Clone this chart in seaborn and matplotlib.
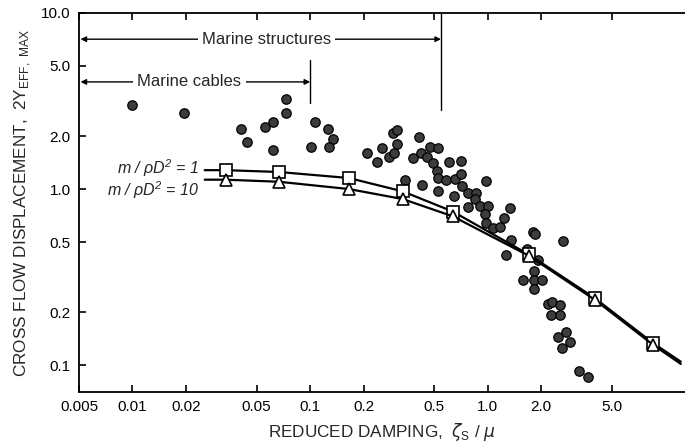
import matplotlib
matplotlib.use('Agg')
import matplotlib.pyplot as plt
import seaborn as sns
import pandas as pd

# ---- data (log-log) ----
pts_x = [0.0100, 0.0196, 0.041, 0.044, 0.056, 0.0615, 0.062, 0.073, 0.073, 0.106,
         0.126, 0.134, 0.101, 0.127,
         0.292, 0.307, 0.409, 0.208, 0.253, 0.237, 0.277, 0.295, 0.307, 0.378,
         0.419, 0.471, 0.523, 0.453, 0.490, 0.516, 0.523, 0.580, 0.652, 0.705,
         0.603, 0.705, 0.341, 0.425, 0.523, 0.643, 0.714, 0.771, 0.856, 0.845,
         0.974, 0.771, 0.901, 1.00, 0.962, 1.23, 1.33, 0.974, 1.067, 1.17,
         1.35, 1.79, 1.84,
         2.65, 1.26, 1.66, 1.91, 1.82, 1.575, 1.82, 2.02, 1.82, 2.18, 2.29,
         2.54, 2.26, 2.54, 2.48, 2.75, 2.90, 2.61, 3.26, 3.66]
pts_y = [3.00, 2.70, 2.19, 1.85, 2.25, 2.40, 1.67, 3.25, 2.70, 2.40,
         2.19, 1.92, 1.73, 1.73,
         2.08, 2.16, 1.97, 1.60, 1.71, 1.42, 1.52, 1.60, 1.80, 1.50,
         1.60, 1.73, 1.71, 1.52, 1.41, 1.265, 1.155, 1.125, 1.14, 1.22,
         1.42, 1.44, 1.125, 1.054, 0.974, 0.913, 1.04, 0.949, 0.949, 0.877,
         1.11, 0.79, 0.80, 0.80, 0.721, 0.684, 0.78, 0.641, 0.60, 0.608,
         0.513, 0.570, 0.555,
         0.507, 0.422, 0.456, 0.395, 0.342, 0.304, 0.304, 0.304, 0.270, 0.222, 0.228,
         0.219, 0.192, 0.192, 0.144, 0.154, 0.135, 0.125, 0.0925, 0.0855]

# curves: first/last entries are the line ends, the rest carry markers
curve_x = [0.0255, 0.0334, 0.0665, 0.165, 0.332, 0.635, 1.70, 4.0, 8.5, 12.2]
curve_m1 = [1.28, 1.28, 1.25, 1.155, 0.97, 0.745, 0.425, 0.240, 0.1335, 0.1045]
curve_m10 = [1.13, 1.13, 1.10, 1.00, 0.877, 0.70, 0.418, 0.235, 0.1305, 0.1015]

x_ticks = [0.005, 0.01, 0.02, 0.05, 0.1, 0.2, 0.5, 1.0, 2.0, 5.0]
x_ticklabels = ['0.005', '0.01', '0.02', '0.05', '0.1', '0.2', '0.5', '1.0', '2.0', '5.0']
y_ticks = [0.1, 0.2, 0.5, 1.0, 2.0, 5.0, 10.0]
y_ticklabels = ['0.1', '0.2', '0.5', '1.0', '2.0', '5.0', '10.0']

sns.set_style('ticks')
plt.rcParams['font.family'] = ['Liberation Sans', 'DejaVu Sans']

fig = plt.figure(figsize=(6.85, 4.43), dpi=100)
ax = fig.add_axes([79 / 685, 1 - 392 / 443, 1 - 79 / 685, (392 - 13) / 443])
ax.set_xscale('log')
ax.set_yscale('log')

df = pd.DataFrame({'x': pts_x, 'y': pts_y})
sns.scatterplot(data=df, x='x', y='y', ax=ax, s=46, color='#3c3c3c',
                edgecolor='black', linewidth=0.9, zorder=2, legend=False)

marks = list(range(1, len(curve_x) - 1))
ax.plot(curve_x, curve_m1, color='black', lw=1.6, marker='s', markersize=8.5,
        markerfacecolor='white', markeredgecolor='black', markeredgewidth=1.2,
        markevery=marks, zorder=3)
ax.plot(curve_x, curve_m10, color='black', lw=1.6, marker='^', markersize=8.5,
        markerfacecolor='white', markeredgecolor='black', markeredgewidth=1.2,
        markevery=marks, zorder=4)

ax.text(0.0238, 1.31, r'm / ρD$^\mathregular{2}$ = 1', ha='right', va='center',
        fontsize=11.5, fontstyle='italic')
ax.text(0.0238, 0.985, r'm / ρD$^\mathregular{2}$ = 10', ha='right', va='center',
        fontsize=11.5, fontstyle='italic')

# range annotations
arrow = dict(arrowstyle='<|-|>', color='black', lw=1.0, mutation_scale=8,
             shrinkA=0, shrinkB=0)
ax.annotate('', xy=(0.0051, 7.1), xytext=(0.545, 7.1), arrowprops=arrow)
ax.text(0.0569, 7.1, 'Marine structures', ha='center', va='center', fontsize=12,
        bbox=dict(facecolor='white', edgecolor='none', pad=3))
ax.plot([0.545, 0.545], [10, 2.8], color='black', lw=1.0)

ax.annotate('', xy=(0.0051, 4.06), xytext=(0.1, 4.06), arrowprops=arrow)
ax.text(0.0209, 4.06, 'Marine cables', ha='center', va='center', fontsize=12,
        bbox=dict(facecolor='white', edgecolor='none', pad=3))
ax.plot([0.1, 0.1], [5.4, 3.08], color='black', lw=1.0)

ax.set_xlim(0.005, 12.88)
ax.set_ylim(0.0703, 10)
ax.set_xticks(x_ticks)
ax.set_xticklabels(x_ticklabels)
ax.set_yticks(y_ticks)
ax.set_yticklabels(y_ticklabels)
ax.minorticks_off()
ax.tick_params(axis='both', direction='in', length=5, width=1.2, labelsize=11,
               colors='black', pad=6)
ax.tick_params(axis='x', top=True)

for side in ['left', 'bottom', 'top']:
    ax.spines[side].set_linewidth(1.3)
    ax.spines[side].set_color('black')
ax.spines['right'].set_visible(False)

ax.set_xlabel(r'REDUCED DAMPING,  $\zeta_\mathregular{S}$ / $\mu$', fontsize=12.3, labelpad=5)
ax.set_ylabel(r'CROSS FLOW DISPLACEMENT,  2Y$_\mathregular{EFF,\ MAX}$', fontsize=12.3,
              labelpad=6)

fig.savefig('out.png', dpi=100)
